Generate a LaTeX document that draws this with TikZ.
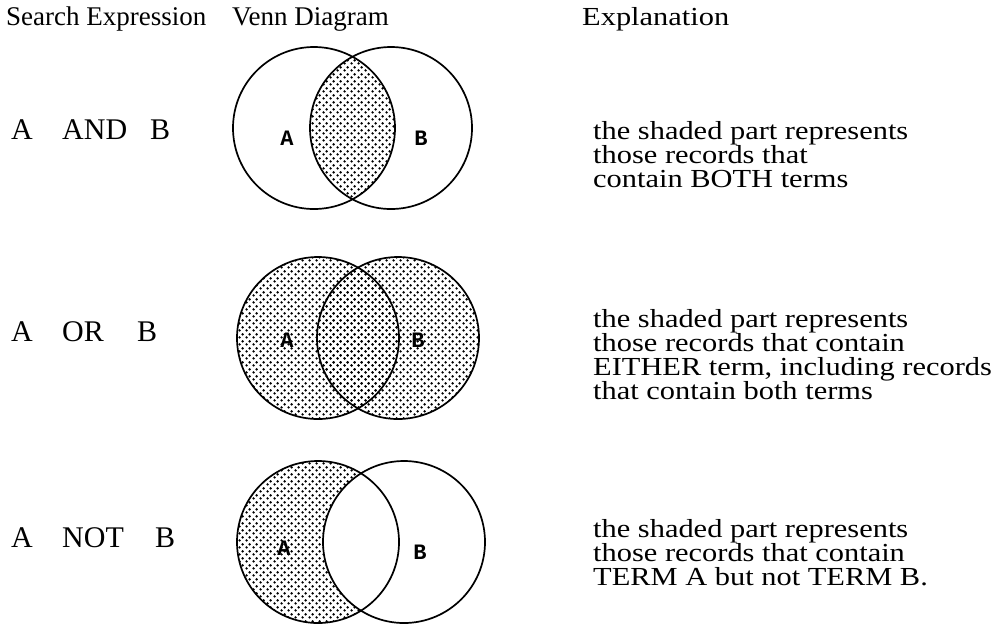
\documentclass[tikz,border=0pt]{standalone}
\usepackage{fontspec}
\setmainfont{Liberation Serif}
\newfontfamily\widefont[FakeStretch=1.17]{Liberation Serif}
\newfontfamily\lblfont{Liberation Mono}
\usetikzlibrary{patterns.meta}
\tikzdeclarepattern{
  name=venndots,
  type=uncolored,
  bounding box={(0pt,0pt) and (7pt,7pt)},
  tile size={(7pt,7pt)},
  code={\fill (1.75pt,1.75pt) circle (1.45pt); \fill (5.25pt,5.25pt) circle (1.45pt);}
}
\tikzset{
  venn/.style={circle, draw=black, line width=1.7pt, minimum size=162pt, inner sep=0pt},
  shade/.style={pattern=venndots, pattern color=black},
  head/.style={font=\fontsize{27}{27}\selectfont, anchor=base west, inner sep=0pt},
  headw/.style={font=\widefont\fontsize{26}{26}\selectfont, anchor=base west, inner sep=0pt},
  expr/.style={font=\fontsize{30}{30}\selectfont, anchor=base west, inner sep=0pt},
  expl/.style={font=\widefont\fontsize{26}{26}\selectfont, anchor=base west, inner sep=0pt},
  lbl/.style={font=\lblfont\bfseries\fontsize{22}{22}\selectfont, inner sep=0pt},
}
\begin{document}
\begin{tikzpicture}[x=1pt, y=-1pt]
\useasboundingbox (0,0) rectangle (998,625);
% headers
\node[head] (h1) at (6,25) {Search Expression};
\node[head] (h2) at (232,25) {Venn Diagram};
\node[headw] (h3) at (582,25) {Explanation};

% ---------- AND ----------
\begin{scope}
  \clip (314,128) circle [radius=81pt];
  \fill[shade] (391,128) circle [radius=81pt];
\end{scope}
\node[venn] (a1) at (314,128) {};
\node[venn] (b1) at (391,128) {};
\node[lbl] (la1) at (287,138) {A};
\node[lbl] (lb1) at (421,138) {B};
\node[expr] (x1a) at (11,139) {A};
\node[expr] (x1b) at (62,139) {AND};
\node[expr] (x1c) at (150,139) {B};
\node[expl] (e1a) at (593,139) {the shaded part represents};
\node[expl] (e1b) at (593,163) {those records that};
\node[expl] (e1c) at (593,187) {contain BOTH terms};

% ---------- OR ----------
\fill[shade] (318,338) circle [radius=81pt];
\fill[shade] (398,338) circle [radius=81pt];
\node[venn] (a2) at (318,338) {};
\node[venn] (b2) at (398,338) {};
\node[lbl] (la2) at (287,340) {A};
\node[lbl] (lb2) at (418,340) {B};
\node[expr] (x2a) at (11,341) {A};
\node[expr] (x2b) at (62,341) {OR};
\node[expr] (x2c) at (137,341) {B};
\node[expl] (e2a) at (593,327) {the shaded part represents};
\node[expl] (e2b) at (593,351) {those records that contain};
\node[expl] (e2c) at (593,375) {EITHER term, including records};
\node[expl] (e2d) at (593,399) {that contain both terms};

% ---------- NOT ----------
\fill[shade] (318,542) circle [radius=81pt];
\fill[white] (404,542) circle [radius=81pt];
\node[venn] (a3) at (318,542) {};
\node[venn] (b3) at (404,542) {};
\node[lbl] (la3) at (284,548) {A};
\node[lbl] (lb3) at (420,552) {B};
\node[expr] (x3a) at (11,547) {A};
\node[expr] (x3b) at (62,547) {NOT};
\node[expr] (x3c) at (155,547) {B};
\node[expl] (e3a) at (593,537) {the shaded part represents};
\node[expl] (e3b) at (593,561) {those records that contain};
\node[expl] (e3c) at (593,585) {TERM A but not TERM B.};
\end{tikzpicture}
\end{document}
